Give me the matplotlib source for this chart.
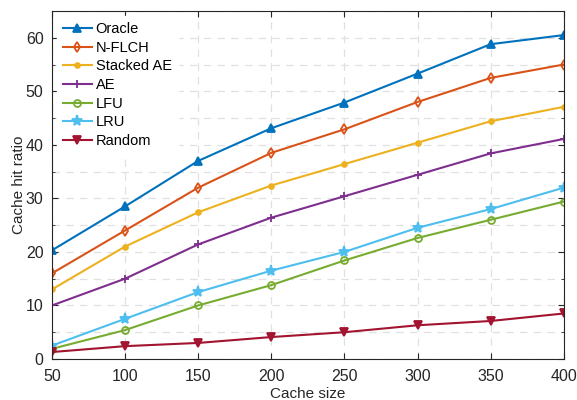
import matplotlib
matplotlib.use("Agg")
import matplotlib.pyplot as plt
from matplotlib.ticker import MultipleLocator

cache_size = [50, 100, 150, 200, 250, 300, 350, 400]
oracle = [20.3, 28.5, 37.0, 43.1, 47.9, 53.3, 58.8, 60.5]
nflch = [16.0, 24.0, 32.0, 38.5, 42.9, 48.0, 52.5, 55.0]
stacked_ae = [13.0, 21.0, 27.4, 32.4, 36.4, 40.4, 44.4, 47.1]
ae = [10.0, 15.0, 21.4, 26.4, 30.4, 34.4, 38.4, 41.1]
lfu = [1.9, 5.4, 10.0, 13.8, 18.4, 22.6, 26.0, 29.4]
lru = [2.5, 7.5, 12.5, 16.5, 20.0, 24.5, 28.0, 32.0]
random_ = [1.3, 2.4, 3.0, 4.1, 5.0, 6.3, 7.1, 8.5]

labels = ["Oracle", "N-FLCH", "Stacked AE", "AE", "LFU", "LRU", "Random"]
series = [oracle, nflch, stacked_ae, ae, lfu, lru, random_]
colors = ["#0072BD", "#D95319", "#EDB120", "#7E2F8E", "#77AC30", "#4DBEEE", "#A2142F"]
markers = ["^", "d", ".", "+", "o", "*", "v"]
msizes = [6, 5, 7, 6, 5, 8, 6]
filled = [True, False, True, True, False, True, True]

plt.rcParams['font.family'] = ['Liberation Sans', 'DejaVu Sans']
fig = plt.figure(figsize=(5.77, 4.0), dpi=100)
ax = fig.add_axes([0.090, 0.1025, 0.887, 0.870])

for y, lab, c, m, ms, f in zip(series, labels, colors, markers, msizes, filled):
    ax.plot(cache_size, y, color=c, marker=m, markersize=ms, linewidth=1.5,
            markerfacecolor=c if f else 'none', markeredgecolor=c,
            markeredgewidth=1.3, label=lab)

ax.set_xlim(50, 400)
ax.set_ylim(0, 65)
ax.xaxis.set_major_locator(MultipleLocator(50))
ax.yaxis.set_major_locator(MultipleLocator(10))
ax.yaxis.set_minor_locator(MultipleLocator(5))
ax.grid(True, which='both', linestyle=(0, (6, 5)), color='#e0e0e0', linewidth=0.9)
ax.set_axisbelow(True)
ax.tick_params(which='both', direction='in', top=True, right=True,
               labelsize=11.5, colors='#262626', length=4)
ax.tick_params(axis='x', pad=7)
ax.tick_params(axis='y', pad=6)
ax.tick_params(which='minor', length=2.5)
for s in ax.spines.values():
    s.set_color('#262626')
    s.set_linewidth(0.8)
ax.set_xlabel("Cache size", fontsize=11, color='#262626', labelpad=2)
ax.set_ylabel("Cache hit ratio", fontsize=11, color='#262626', labelpad=0)

leg = ax.legend(loc='upper left', frameon=True, fontsize=10.5, handlelength=2.0,
                labelspacing=0.32, borderaxespad=0.35, handletextpad=0.25,
                borderpad=0.4)
leg.get_frame().set_edgecolor('white')
leg.get_frame().set_facecolor('white')
leg.get_frame().set_alpha(1)

fig.savefig("out.png", dpi=100)
